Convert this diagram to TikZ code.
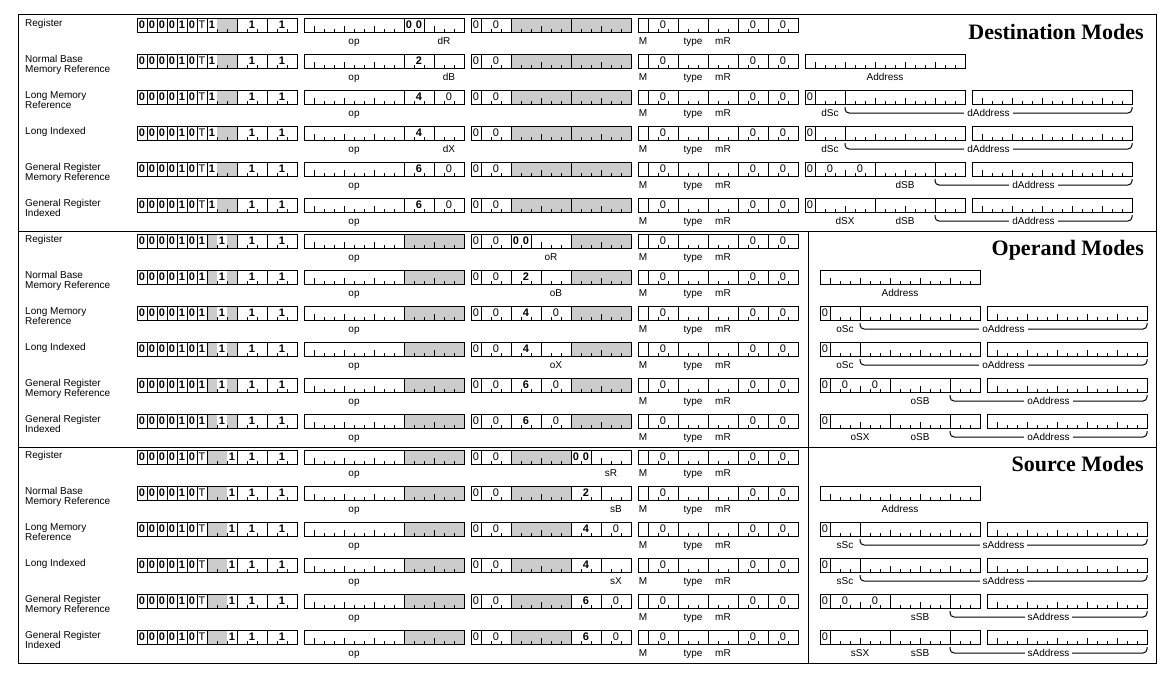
\documentclass[tikz,border=0pt]{standalone}
\usepackage{fontspec}
\setmainfont{Liberation Sans}
\newfontfamily\titlefont{Liberation Serif}
\newcount\nodecnt
\tikzset{
  autoname/.code={\global\advance\nodecnt by 1\relax\pgfkeysalso{name=n\the\nodecnt}},
  every node/.append style={autoname},
  bitline/.style={line width=1pt},
  shd/.style={fill=black!20},
  bd/.style={font=\fontsize{11}{11}\selectfont\bfseries, inner sep=0pt},
  pl/.style={font=\fontsize{11}{11}\selectfont, inner sep=0pt},
  lbl/.style={font=\fontsize{10}{10}\selectfont, inner sep=0pt, anchor=base},
  side/.style={font=\fontsize{10}{10}\selectfont, inner sep=0pt, anchor=base west},
  title/.style={font=\titlefont\bfseries\fontsize{22}{22}\selectfont, inner sep=0pt, anchor=base east},
  bracepath/.style={line width=1pt, rounded corners=4pt},
}
% one field: x0 y0 start length
\newcommand\fld[4]{%
  \draw[bitline] ({#1+10*#3},{#2}) rectangle ++({10*#4},14);
  \ifnum#4>1\relax
    \pgfmathtruncatemacro\fj{#3+1}%
    \pgfmathtruncatemacro\lj{#3+#4-1}%
    \foreach \j in {\fj,...,\lj}{%
      \pgfmathtruncatemacro\mm{mod(\j,3)}%
      \ifnum\mm=1 \def\tkh{6}\else\def\tkh{3}\fi
      \draw[bitline] ({#1+10*\j},{#2+14}) -- ++(0,-\tkh);
    }%
  \fi
}
% a word: x0 y0 fields shades texts
\newcommand\W[5]{%
  \foreach \s/\l in {#4}{\fill[shd] ({#1+10*\s},{#2}) rectangle ++({10*\l},14);}
  \foreach \s/\l in {#3}{\fld{#1}{#2}{\s}{\l}}
  \foreach \p/\t/\st in {#5}{\node[\st] at ({#1+10*\p+5},{#2+6.5}) {\t};}
}
\newcommand\lab[3]{\node[lbl] at ({#1},{#2+26}) {#3};}
\newcommand\brc[4]{%
  \draw[bracepath] ({#1},{#3+17}) |- ({(#1+#2)/2},{#3+23}) -| ({#2},{#3+17});
  \node[lbl, fill=white, inner xsep=3pt, inner ysep=1pt] at ({(#1+#2)/2},{#3+26}) {#4};
}
\newcommand\side[3]{\node[side] at (25,{#1+8.5}) {#2};\node[side] at (25,{#1+18.5}) {#3};}
\newcommand\WoneD[1]{\W{137}{#1}{0/1,1/1,2/1,3/1,4/1,5/1,6/1,7/3,10/3,13/3}{8/2}{0/0/bd,1/0/bd,2/0/bd,3/0/bd,4/1/bd,5/0/bd,6/T/pl,7/1/bd,11/1/bd,14/1/bd}}
\newcommand\WoneO[1]{\W{137}{#1}{0/1,1/1,2/1,3/1,4/1,5/1,6/1,7/3,10/3,13/3}{7/1,9/1}{0/0/bd,1/0/bd,2/0/bd,3/0/bd,4/1/bd,5/0/bd,6/1/bd,8/1/bd,11/1/bd,14/1/bd}}
\newcommand\WoneS[1]{\W{137}{#1}{0/1,1/1,2/1,3/1,4/1,5/1,6/1,7/3,10/3,13/3}{7/2}{0/0/bd,1/0/bd,2/0/bd,3/0/bd,4/1/bd,5/0/bd,6/T/pl,9/1/bd,11/1/bd,14/1/bd}}
\newcommand\WtwoOS[1]{\W{304}{#1}{0/10,10/6}{10/6}{0//pl}\lab{354}{#1}{op}}
\newcommand\WthreeD[1]{\W{471}{#1}{0/1,1/3,4/6,10/6}{4/6,10/6}{0/0/pl,2/0/pl}}
\newcommand\Wfour[1]{\W{638}{#1}{0/1,1/3,4/3,7/3,10/3,13/3}{0/0}{2/0/pl,11/0/pl,14/0/pl}%
  \lab{643}{#1}{M}\lab{693}{#1}{type}\lab{723}{#1}{mR}}
\newcommand\Wnb[2]{\W{#1}{#2}{0/16}{0/0}{0//pl}\lab{#1+80}{#2}{Address}}
\newcommand\Wlong[3]{\W{#1}{#2}{0/1,1/3,4/12}{0/0}{0/0/pl}%
  \W{#1+167}{#2}{0/16}{0/0}{0//pl}%
  \lab{#1+25}{#2}{#3Sc}\brc{#1+40}{#1+327}{#2}{#3Address}}
\newcommand\Wgrm[3]{\W{#1}{#2}{0/1,1/6,7/6,13/3}{0/0}{0/0/pl,2/0/pl,5/0/pl}%
  \W{#1+167}{#2}{0/16}{0/0}{0//pl}%
  \lab{#1+100}{#2}{#3SB}\brc{#1+130}{#1+327}{#2}{#3Address}}
\newcommand\Wgri[3]{\W{#1}{#2}{0/1,1/6,7/6,13/3}{0/0}{0/0/pl}%
  \W{#1+167}{#2}{0/16}{0/0}{0//pl}%
  \lab{#1+40}{#2}{#3SX}\lab{#1+100}{#2}{#3SB}\brc{#1+130}{#1+327}{#2}{#3Address}}
\begin{document}
\begin{tikzpicture}[x=1pt,y=-1pt]
\useasboundingbox (0,0) rectangle (1176,680);
\draw[bitline] (18,14) rectangle (1156,663);
\draw[bitline] (18,231) -- (1156,231);
\draw[bitline] (18,447) -- (1156,447);
\draw[bitline] (808,231) -- (808,663);
\node[title] (tD) at (1144,39) {Destination Modes};
\node[title] (tO) at (1144,255) {Operand Modes};
\node[title] (tS) at (1144,471) {Source Modes};
% ---------------- Destination modes
\side{18}{Register}{}
\WoneD{18}
\W{304}{18}{0/10,10/2,12/4}{0/0}{10/0/bd,11/0/bd}\lab{354}{18}{op}\lab{444}{18}{dR}
\WthreeD{18}\Wfour{18}
%
\side{54}{Normal Base}{Memory Reference}
\WoneD{54}
\W{304}{54}{0/10,10/3,13/3}{0/0}{11/2/bd}\lab{354}{54}{op}\lab{449}{54}{dB}
\WthreeD{54}\Wfour{54}\Wnb{805}{54}
%
\side{90}{Long Memory}{Reference}
\WoneD{90}
\W{304}{90}{0/10,10/3,13/3}{0/0}{11/4/bd,14/0/pl}\lab{354}{90}{op}
\WthreeD{90}\Wfour{90}\Wlong{805}{90}{d}
%
\side{126}{Long Indexed}{}
\WoneD{126}
\W{304}{126}{0/10,10/3,13/3}{0/0}{11/4/bd}\lab{354}{126}{op}\lab{449}{126}{dX}
\WthreeD{126}\Wfour{126}\Wlong{805}{126}{d}
%
\side{162}{General Register}{Memory Reference}
\WoneD{162}
\W{304}{162}{0/10,10/3,13/3}{0/0}{11/6/bd,14/0/pl}\lab{354}{162}{op}
\WthreeD{162}\Wfour{162}\Wgrm{805}{162}{d}
%
\side{198}{General Register}{Indexed}
\WoneD{198}
\W{304}{198}{0/10,10/3,13/3}{0/0}{11/6/bd,14/0/pl}\lab{354}{198}{op}
\WthreeD{198}\Wfour{198}\Wgri{805}{198}{d}
% ---------------- Operand modes
\side{234}{Register}{}
\WoneO{234}\WtwoOS{234}
\W{471}{234}{0/1,1/3,4/2,6/4,10/6}{10/6}{0/0/pl,2/0/pl,4/0/bd,5/0/bd}\lab{551}{234}{oR}
\Wfour{234}
%
\side{270}{Normal Base}{Memory Reference}
\WoneO{270}\WtwoOS{270}
\W{471}{270}{0/1,1/3,4/3,7/3,10/6}{10/6}{0/0/pl,2/0/pl,5/2/bd}\lab{556}{270}{oB}
\Wfour{270}\Wnb{820}{270}
%
\side{306}{Long Memory}{Reference}
\WoneO{306}\WtwoOS{306}
\W{471}{306}{0/1,1/3,4/3,7/3,10/6}{10/6}{0/0/pl,2/0/pl,5/4/bd,8/0/pl}
\Wfour{306}\Wlong{820}{306}{o}
%
\side{342}{Long Indexed}{}
\WoneO{342}\WtwoOS{342}
\W{471}{342}{0/1,1/3,4/3,7/3,10/6}{10/6}{0/0/pl,2/0/pl,5/4/bd}\lab{556}{342}{oX}
\Wfour{342}\Wlong{820}{342}{o}
%
\side{378}{General Register}{Memory Reference}
\WoneO{378}\WtwoOS{378}
\W{471}{378}{0/1,1/3,4/3,7/3,10/6}{10/6}{0/0/pl,2/0/pl,5/6/bd,8/0/pl}
\Wfour{378}\Wgrm{820}{378}{o}
%
\side{414}{General Register}{Indexed}
\WoneO{414}\WtwoOS{414}
\W{471}{414}{0/1,1/3,4/3,7/3,10/6}{10/6}{0/0/pl,2/0/pl,5/6/bd,8/0/pl}
\Wfour{414}\Wgri{820}{414}{o}
% ---------------- Source modes
\side{450}{Register}{}
\WoneS{450}\WtwoOS{450}
\W{471}{450}{0/1,1/3,4/6,10/2,12/4}{4/6}{0/0/pl,2/0/pl,10/0/bd,11/0/bd}\lab{611}{450}{sR}
\Wfour{450}
%
\side{486}{Normal Base}{Memory Reference}
\WoneS{486}\WtwoOS{486}
\W{471}{486}{0/1,1/3,4/6,10/3,13/3}{4/6}{0/0/pl,2/0/pl,11/2/bd}\lab{616}{486}{sB}
\Wfour{486}\Wnb{820}{486}
%
\side{522}{Long Memory}{Reference}
\WoneS{522}\WtwoOS{522}
\W{471}{522}{0/1,1/3,4/6,10/3,13/3}{4/6}{0/0/pl,2/0/pl,11/4/bd,14/0/pl}
\Wfour{522}\Wlong{820}{522}{s}
%
\side{558}{Long Indexed}{}
\WoneS{558}\WtwoOS{558}
\W{471}{558}{0/1,1/3,4/6,10/3,13/3}{4/6}{0/0/pl,2/0/pl,11/4/bd}\lab{616}{558}{sX}
\Wfour{558}\Wlong{820}{558}{s}
%
\side{594}{General Register}{Memory Reference}
\WoneS{594}\WtwoOS{594}
\W{471}{594}{0/1,1/3,4/6,10/3,13/3}{4/6}{0/0/pl,2/0/pl,11/6/bd,14/0/pl}
\Wfour{594}\Wgrm{820}{594}{s}
%
\side{630}{General Register}{Indexed}
\WoneS{630}\WtwoOS{630}
\W{471}{630}{0/1,1/3,4/6,10/3,13/3}{4/6}{0/0/pl,2/0/pl,11/6/bd,14/0/pl}
\Wfour{630}\Wgri{820}{630}{s}
\end{tikzpicture}
\end{document}
